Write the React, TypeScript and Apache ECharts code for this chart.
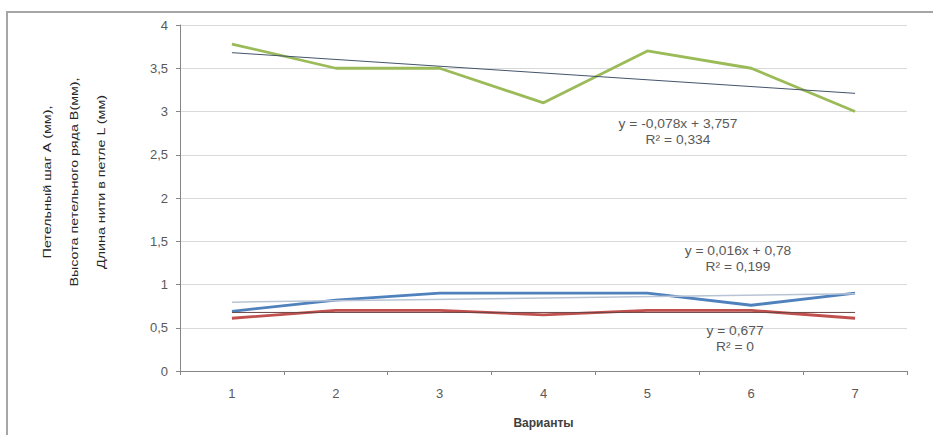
import React, { useEffect, useRef } from "react";
import * as echarts from "echarts";

const categories = ["1", "2", "3", "4", "5", "6", "7"];
const stepA = [0.69, 0.82, 0.9, 0.9, 0.9, 0.76, 0.9];
const rowB = [0.61, 0.7, 0.7, 0.65, 0.7, 0.7, 0.61];
const loopL = [3.78, 3.5, 3.5, 3.1, 3.7, 3.5, 3.0];
const trendCats = ["1", "7"];
const trendL = [3.68, 3.21];
const trendA = [0.796, 0.892];
const trendB = [0.677, 0.677];
const yTicks = [0, 0.5, 1, 1.5, 2, 2.5, 3, 3.5, 4];

const yTitle = "Петельный шаг А (мм),\nВысота петельного ряда В(мм),\nДлина нити в петле L (мм)";

export default function App() {
  const ref = useRef<HTMLDivElement>(null);
  useEffect(() => {
    if (!ref.current) return;
    const chart = echarts.init(ref.current, null, { renderer: "svg" });
    const trend = (vals: number[], color: string, width: number) => ({
      type: "line",
      data: trendCats.map((c, i) => [c, vals[i]]),
      symbol: "none",
      silent: true,
      lineStyle: { color, width },
      z: 3,
    });
    const main = (vals: number[], color: string) => ({
      type: "line",
      data: vals,
      symbol: "none",
      lineStyle: { color, width: 2.8 },
      z: 2,
    });
    const lbl = (x: number, y: number, text: string) => ({
      type: "text",
      x,
      y,
      scaleX: 1.15,
      style: {
        text,
        align: "center",
        verticalAlign: "middle",
        fill: "#595959",
        font: "12px 'Liberation Sans', Arial, sans-serif",
        lineHeight: 16,
      },
      z: 10,
    });
    chart.setOption({
      animation: false,
      backgroundColor: "#ffffff",
      grid: { left: 180, right: 26, top: 25, bottom: 64 },
      xAxis: {
        type: "category",
        data: categories,
        boundaryGap: true,
        axisLine: { lineStyle: { color: "#868686" } },
        axisTick: { show: true, lineStyle: { color: "#868686" }, length: 4 },
        axisLabel: { color: "#595959", fontSize: 13, margin: 16, fontFamily: "Liberation Sans, Arial, sans-serif" },
        name: "Варианты",
        nameLocation: "middle",
        nameGap: 46,
        nameTextStyle: { color: "#404040", fontSize: 12, fontWeight: "bold", fontFamily: "Liberation Sans, Arial, sans-serif" },
      },
      yAxis: {
        type: "value",
        min: yTicks[0],
        max: yTicks[yTicks.length - 1],
        interval: 0.5,
        axisLine: { show: true, lineStyle: { color: "#868686" } },
        axisTick: { show: true, lineStyle: { color: "#868686" }, length: 4 },
        axisLabel: {
          color: "#595959",
          fontSize: 13,
          margin: 12,
          fontFamily: "Liberation Sans, Arial, sans-serif",
          formatter: (v: number) => String(v).replace(".", ","),
        },
        splitLine: { lineStyle: { color: "#d9d9d9", width: 1 } },
      },
      series: [
        trend(trendL, "#44546a", 1),
        trend(trendA, "#b8c4d4", 1.5),
        trend(trendB, "#6b4545", 1),
        main(stepA, "#4f81bd"),
        main(rowB, "#c0504d"),
        main(loopL, "#9bbb59"),
      ],
      graphic: [
        {
          type: "rect",
          shape: { x: 7, y: 12, width: 1000, height: 500 },
          style: { fill: "none", stroke: "#a6a6a6", lineWidth: 2 },
          z: -1,
          silent: true,
        },
        {
          type: "text",
          x: 74,
          y: 182,
          rotation: Math.PI / 2,
          scaleX: 1.3,
          style: {
            text: yTitle,
            align: "center",
            verticalAlign: "middle",
            fill: "#262626",
            font: "11px 'Liberation Sans Narrow', 'Liberation Sans', Arial, sans-serif",
            lineHeight: 27,
          },
        },
        lbl(678, 132, "y = -0,078x + 3,757\nR² = 0,334"),
        lbl(738, 259, "y = 0,016x + 0,78\nR² = 0,199"),
        lbl(735, 339, "y = 0,677\nR² = 0"),
      ],
    });
    return () => chart.dispose();
  }, []);
  return (
    <div
      ref={ref}
      style={{ position: "fixed", left: 0, top: 0, width: 933, height: 435 }}
    />
  );
}
